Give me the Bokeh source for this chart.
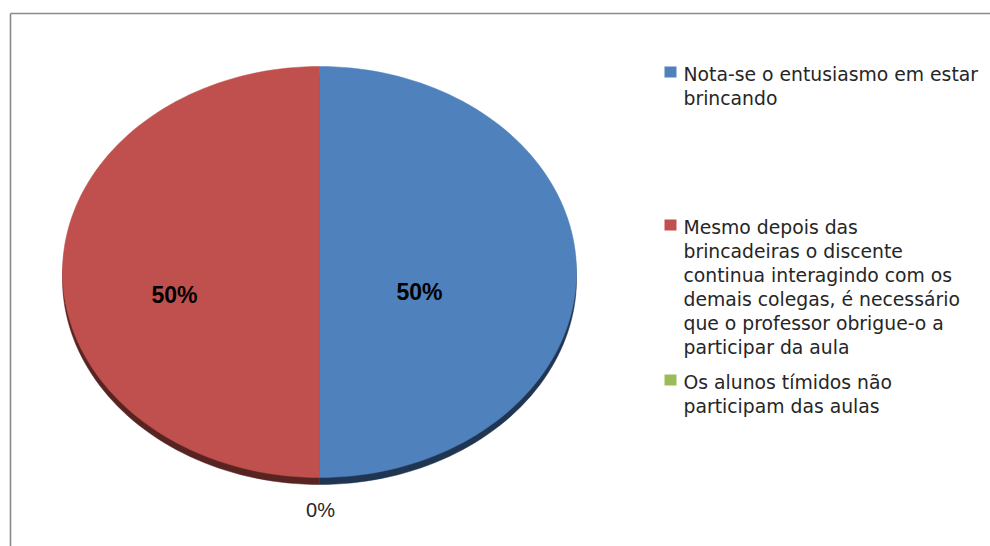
import numpy as np
from bokeh.plotting import figure
from bokeh.models import Range1d
from bokeh.core.properties import value
from bokeh.embed import file_html
from bokeh.resources import INLINE

# ---- data ----
categories = [
    "Nota-se o entusiasmo em estar\nbrincando",
    "Mesmo depois das\nbrincadeiras o discente\ncontinua interagindo com os\ndemais colegas, é necessário\nque o professor obrigue-o a\nparticipar da aula",
    "Os alunos tímidos não\nparticipam das aulas",
]
values = [50, 50, 0]
pct_labels = ["50%", "50%", "0%"]
colors = ["#4F81BD", "#C0504D", "#9BBB59"]
side_colors = ["#1f3552", "#582422", "#4d5e2c"]

# ---- layout ----
W, H = 990, 546
cx, cy, rx, ry, depth = 319, 271.5, 257, 205.5, 7
label_pos = [(419, 291), (174, 294), (320, 509)]
label_bold = [True, True, False]
legend_x_sq, legend_x_txt = 664, 683
legend_sq_top = [66, 219, 374]
legend_base = [74, 227, 382]
line_h = 24

p = figure(width=W, height=H, x_range=Range1d(0, W), y_range=Range1d(H, 0),
           output_backend="svg", toolbar_location=None, min_border=0)
p.axis.visible = False
p.grid.visible = False
p.outline_line_color = None
p.background_fill_color = "white"
p.border_fill_color = "white"

# frame
p.line([10, W + 5], [13, 13], line_color="#8a8a8a", line_width=1.6)
p.line([10, 10], [13, H + 5], line_color="#8a8a8a", line_width=1.6)

total = float(sum(values))
start = -np.pi / 2  # start at bottom, counter-clockwise
angles = []
a = start
for v in values:
    span = 2 * np.pi * v / total
    angles.append((a, a + span))
    a += span

def wedge(a0, a1, dy=0.0):
    n = max(2, int(200 * (a1 - a0) / (2 * np.pi)) + 2)
    t = np.linspace(a0, a1, n)
    xs = np.concatenate([[cx], cx + rx * np.cos(t), [cx]])
    ys = np.concatenate([[cy + dy], cy + dy - ry * np.sin(t), [cy + dy]])
    return list(xs), list(ys)

# side (depth)
for (a0, a1), c in zip(angles, side_colors):
    if a1 - a0 <= 0:
        continue
    xs, ys = wedge(a0, a1, depth)
    p.patch(xs, ys, fill_color=c, line_color=c, line_width=0.5)

# top face
for (a0, a1), c in zip(angles, colors):
    if a1 - a0 <= 0:
        continue
    xs, ys = wedge(a0, a1, 0)
    p.patch(xs, ys, fill_color=c, line_color=c, line_width=0.5)

# percentage labels
for txt, (lx, ly), b in zip(pct_labels, label_pos, label_bold):
    p.text([lx], [ly], text=[txt], text_align="center", text_baseline="middle",
           text_font=value("Liberation Sans"),
           text_font_size="23px" if b else "20px",
           text_font_style="bold" if b else "normal",
           text_color="#000000" if b else "#262626")

# legend
for cat, c, sq, base in zip(categories, colors, legend_sq_top, legend_base):
    p.quad(left=[legend_x_sq], right=[legend_x_sq + 12], top=[sq], bottom=[sq + 11],
           fill_color=c, line_color=None)
    for i, ln in enumerate(cat.split("\n")):
        p.text([legend_x_txt], [base + i * line_h], text=[ln], text_align="left",
               text_baseline="alphabetic", text_font=value("DejaVu Sans"),
               text_font_size="18.8px", text_color="#262626")

open("out.html", "w").write(file_html(p, INLINE))
